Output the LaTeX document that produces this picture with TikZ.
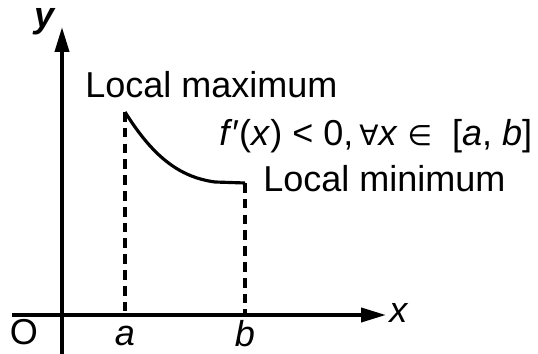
\documentclass[tikz,border=0pt]{standalone}
\usepackage{fontspec}
\setmainfont{Liberation Sans}
\newfontfamily\symfont{DejaVu Sans}
\usetikzlibrary{arrows.meta, positioning}
\tikzset{
  axisline/.style={line width=2.2pt, -{Triangle[length=5mm, width=2.8mm]}},
  guide/.style={line width=1.8pt, dash pattern=on 5.5pt off 3.5pt},
  graph/.style={line width=1.8pt},
  lbl/.style={font=\fontsize{20.5}{24}\selectfont, inner sep=0pt},
}
\newcommand{\smallsym}[1]{{\symfont\fontsize{16}{18}\selectfont #1}}

\begin{document}
\begin{tikzpicture}[x=0.02cm, y=-0.02cm]
  \useasboundingbox (0,0) rectangle (538,354);
  % Axes
  \coordinate (xstart) at (12,315);
  \coordinate (xend) at (386,315);
  \coordinate (ystart) at (62,354);
  \coordinate (yend) at (62,27);
  \draw[axisline] (xstart) -- (xend);
  \draw[axisline] (ystart) -- (yend);
  \node[lbl, font=\fontsize{20.5}{24}\selectfont\bfseries\itshape] (ylab) at (45,22) {y};
  \node[lbl, font=\fontsize{20.5}{24}\selectfont\itshape, anchor=west] (xlab) at (389,313) {x};
  \node[lbl] (olab) at (24,332) {O};
  % Points a and b
  \coordinate (afoot) at (125,315);
  \coordinate (bfoot) at (245,315);
  \coordinate (max) at (125,112);
  \coordinate (min) at (245,183);
  \node[lbl, font=\fontsize{20.5}{24}\selectfont\itshape] (alab) at (125,336) {a};
  \node[lbl, font=\fontsize{20.5}{24}\selectfont\itshape] (blab) at (245,334) {b};
  \draw[guide] (max) -- (afoot);
  \draw[guide] (min) -- (bfoot);
  % Curve
  \draw[graph] (max) .. controls (152,155) and (178,177) .. (215,182) -- (min);
  % Labels
  \node[lbl, anchor=base west] (maxlab) at (85,98) {Local maximum};
  \node[lbl, anchor=base west] (cond) at (219,146)
    {\textit{f}′(\textit{x}) < 0,\,\smallsym{∀}\textit{x} \smallsym{∈}\ \ [\textit{a}, \textit{b}]};
  \node[lbl, anchor=base west] (minlab) at (263,192) {Local minimum};
\end{tikzpicture}
\end{document}
